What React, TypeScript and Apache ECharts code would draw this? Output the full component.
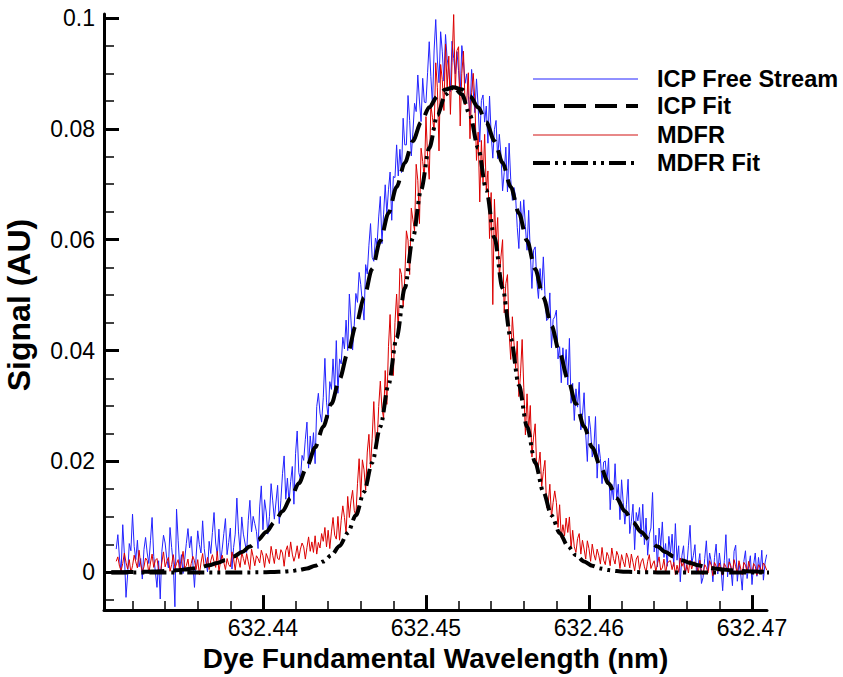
import React, { useEffect, useRef } from "react";
import * as echarts from "echarts";

// ---- Data ----
// Measured spectra, one reading every 0.0001 nm starting at 632.4310 nm
const SAMPLE_START_NM = 632.431;
const SAMPLE_STEP_NM = 0.0001;

const icpFreeStream = [
  0.0042, 0.0068, 0.0026, 0.0001, 0.0086, 0.0033, -0.0045, -0.0004, 0.0052, 0.0039,
  0.0105, 0.0047, 0.0023, 0.0058, 0.001, 0.0025, -0.0012, 0.0041, 0.0063, 0.0035,
  0.0016, 0.0057, 0.0099, 0.0029, 0.0001, -0.0027, 0.0021, -0.0048, 0.0038, 0.0067,
  0.0053, 0.0025, 0.0008, 0.0081, 0.0045, 0.0014, -0.0062, 0.0114, 0.0057, 0.0007,
  0.0032, -0.0002, 0.0023, 0.0052, 0.0079, 0.0044, 0.0065, 0.0017, -0.0027, 0.0028,
  0.0075, 0.005, 0.0035, 0.0093, 0.0043, 0.0018, 0.0001, 0.0056, 0.0034, 0.0072,
  0.0108, 0.0053, 0.0031, 0.0078, 0.0016, 0.0042, 0.007, 0.0097, 0.0032, 0.0054,
  0.008, 0.0006, 0.0045, 0.0069, 0.0134, 0.0073, 0.0038, 0.01, 0.0069, 0.0053,
  0.0036, 0.0094, 0.013, 0.0073, 0.0101, 0.0088, 0.0074, 0.0043, 0.0118, 0.0156,
  0.0077, 0.0131, 0.0109, 0.0069, 0.0101, 0.016, 0.0129, 0.0096, 0.0127, 0.0157,
  0.0088, 0.013, 0.0178, 0.021, 0.0132, 0.017, 0.0127, 0.0164, 0.0191, 0.0123,
  0.0214, 0.0255, 0.018, 0.0168, 0.0211, 0.0202, 0.024, 0.0271, 0.0188, 0.0246,
  0.0213, 0.0252, 0.0196, 0.0299, 0.0323, 0.0287, 0.0271, 0.0315, 0.0386, 0.0307,
  0.0278, 0.0344, 0.033, 0.0385, 0.0328, 0.0418, 0.0323, 0.0385, 0.0376, 0.0424,
  0.0403, 0.0455, 0.04, 0.0502, 0.0455, 0.0401, 0.0446, 0.0503, 0.0487, 0.0541,
  0.0519, 0.0486, 0.0455, 0.0555, 0.0538, 0.059, 0.0629, 0.0568, 0.0561, 0.0603,
  0.0591, 0.0641, 0.0678, 0.0593, 0.0646, 0.0699, 0.0647, 0.069, 0.0722, 0.0635,
  0.0714, 0.0712, 0.0771, 0.0715, 0.0763, 0.0721, 0.0819, 0.0771, 0.0771, 0.086,
  0.0815, 0.0751, 0.0794, 0.0846, 0.0831, 0.0897, 0.085, 0.0813, 0.0891, 0.0848,
  0.0847, 0.0901, 0.0957, 0.0894, 0.0843, 0.0942, 0.0997, 0.0924, 0.0883, 0.0975,
  0.094, 0.0886, 0.097, 0.0926, 0.0906, 0.0867, 0.0958, 0.0927, 0.0899, 0.0939,
  0.0905, 0.0862, 0.095, 0.0922, 0.0882, 0.0899, 0.086, 0.0825, 0.0907, 0.0868,
  0.0829, 0.089, 0.084, 0.0776, 0.0851, 0.0861, 0.0812, 0.0841, 0.0774, 0.0859,
  0.079, 0.0747, 0.0799, 0.0815, 0.0746, 0.079, 0.0754, 0.0688, 0.0721, 0.0767,
  0.0686, 0.0774, 0.0709, 0.0671, 0.0694, 0.0677, 0.0622, 0.0584, 0.0669, 0.062,
  0.0672, 0.0624, 0.0581, 0.0653, 0.0578, 0.0512, 0.0581, 0.0587, 0.0525, 0.0494,
  0.0548, 0.0509, 0.0569, 0.0501, 0.0454, 0.0457, 0.0504, 0.0405, 0.0456, 0.0461,
  0.0473, 0.0385, 0.0407, 0.0342, 0.0405, 0.0364, 0.0402, 0.0338, 0.0422, 0.0305,
  0.0341, 0.0274, 0.0331, 0.0298, 0.0343, 0.0257, 0.0283, 0.0324, 0.0249, 0.02,
  0.0282, 0.0257, 0.0208, 0.0225, 0.0281, 0.017, 0.0231, 0.0205, 0.016, 0.0199,
  0.0201, 0.0163, 0.0206, 0.0113, 0.0159, 0.0131, 0.0196, 0.0134, 0.0159, 0.0095,
  0.0167, 0.0126, 0.0087, 0.0123, 0.0168, 0.007, 0.0092, 0.0123, 0.0041, 0.0108,
  0.0093, 0.0117, 0.0064, 0.0123, 0.005, 0.0098, 0.0031, 0.0069, 0.008, 0.0144,
  0.0037, 0.0067, 0.001, 0.008, 0.0048, 0.0091, 0.0027, 0.0052, 0.0011, 0.0065,
  0.0035, 0.0069, 0.0011, 0.0088, 0.0022, 0.0048, -0.0017, 0.003, 0.0048, -0.0002,
  0.0011, 0.0048, 0.0085, 0.0016, 0.003, 0.005, -0.0003, 0.0014, 0.0034, -0.002,
  -0.0009, 0.0025, 0.0057, 0.0003, 0.0035, 0.0019, -0.0017, 0.0027, 0.0051, -0.0003,
  0.0035, 0.0008, -0.0033, 0.0021, 0.0068, -0.0008, 0.0025, 0.0008, -0.0024, 0.0038,
  0.0049, -0.0016, 0.0016, -0.0001, -0.0032, 0.002, 0.0039, -0.0011, 0.0012, 0.003,
  -0.0022, 0.0014, 0.0035, -0.0007, 0.0027, 0.0, 0.004, -0.0014, 0.0017, 0.0032,
];

const mdfr = [
  0.002, 0.0028, 0.0011, 0.0003, 0.0016, 0.0035, 0.0018, 0.0006, 0.0023, -0.0001,
  0.0012, 0.0031, 0.0019, 0.0008, 0.004, 0.0015, 0.0001, 0.001, 0.0026, 0.0021,
  -0.0002, 0.0017, 0.0033, 0.0009, 0.0022, 0.0025, 0.0005, -0.0003, 0.0018, 0.0037,
  0.001, 0.002, 0.0027, 0.0002, 0.0014, 0.0032, 0.0007, 0.0016, 0.0023, 0.0,
  0.0019, 0.0038, 0.0008, 0.0012, 0.0024, 0.0001, 0.0016, 0.0029, 0.0021, 0.0005,
  0.0023, -0.0004, 0.0017, 0.0034, 0.001, 0.001, 0.0027, 0.0005, 0.0021, 0.0032,
  0.0019, 0.0009, 0.0038, 0.0001, 0.002, 0.0031, 0.0018, 0.0005, 0.0025, 0.0014,
  0.001, 0.0037, 0.0024, 0.0004, 0.0029, 0.0022, 0.0009, 0.0036, 0.0025, 0.0014,
  0.0034, 0.0019, 0.0005, 0.0042, 0.0028, 0.0012, 0.003, 0.0025, 0.0017, 0.004,
  0.003, 0.0009, 0.0034, 0.0026, 0.0016, 0.0047, 0.0031, 0.0016, 0.0042, 0.0025,
  0.0023, 0.0041, 0.0035, 0.0011, 0.0039, 0.0048, 0.0028, 0.0055, 0.0033, 0.002,
  0.0031, 0.0048, 0.0025, 0.0042, 0.0053, 0.0046, 0.0024, 0.0045, 0.0064, 0.0038,
  0.0055, 0.0036, 0.0066, 0.0033, 0.0054, 0.0044, 0.007, 0.0056, 0.0081, 0.0046,
  0.0076, 0.0043, 0.0073, 0.0099, 0.0067, 0.006, 0.0101, 0.0058, 0.0094, 0.012,
  0.0099, 0.0071, 0.0137, 0.0099, 0.0129, 0.0148, 0.0112, 0.0102, 0.016, 0.0205,
  0.0136, 0.0203, 0.0185, 0.0148, 0.0217, 0.0249, 0.0189, 0.0242, 0.0308, 0.0237,
  0.0231, 0.0299, 0.0345, 0.0296, 0.0278, 0.0364, 0.0303, 0.0407, 0.0465, 0.0379,
  0.0355, 0.0451, 0.0502, 0.0435, 0.0548, 0.0537, 0.0479, 0.053, 0.0616, 0.0599,
  0.0537, 0.0657, 0.0636, 0.0616, 0.0736, 0.0707, 0.0629, 0.0765, 0.0741, 0.0709,
  0.0822, 0.0751, 0.0709, 0.0843, 0.082, 0.0796, 0.0919, 0.0874, 0.076, 0.0916,
  0.0889, 0.0833, 0.0953, 0.0874, 0.0931, 0.0826, 0.092, 0.1006, 0.087, 0.0941,
  0.0948, 0.0805, 0.09, 0.094, 0.0843, 0.0849, 0.0901, 0.0782, 0.0865, 0.09,
  0.0851, 0.0743, 0.0794, 0.0668, 0.0779, 0.0703, 0.079, 0.0689, 0.0724, 0.0602,
  0.0685, 0.0483, 0.0673, 0.0594, 0.064, 0.0532, 0.0569, 0.06, 0.0468, 0.0521,
  0.0537, 0.0434, 0.0384, 0.0461, 0.0414, 0.0368, 0.0417, 0.0317, 0.0358, 0.042,
  0.0334, 0.0248, 0.0322, 0.0255, 0.0301, 0.0208, 0.0244, 0.0268, 0.0182, 0.0192,
  0.0217, 0.0155, 0.0182, 0.0202, 0.0117, 0.0124, 0.0159, 0.0099, 0.0126, 0.0147,
  0.0126, 0.0081, 0.0122, 0.0063, 0.0086, 0.0066, 0.0098, 0.0072, 0.01, 0.0043,
  0.0076, 0.0046, 0.0036, 0.0061, 0.007, 0.0033, 0.0058, 0.0042, 0.0024, 0.0057,
  0.0043, 0.002, 0.0051, 0.0033, 0.0022, 0.0042, 0.0031, 0.0015, 0.0045, 0.0022,
  0.0014, 0.0036, 0.0029, 0.0012, 0.0044, 0.0025, 0.0015, 0.0038, 0.003, 0.0007,
  0.0032, 0.002, 0.001, 0.0035, 0.0026, 0.0008, 0.0033, 0.0018, 0.0003, 0.0024,
  0.003, 0.0005, 0.0019, 0.0025, 0.001, 0.0, 0.002, 0.0032, 0.0007, 0.0015,
  0.0021, 0.0001, 0.0016, 0.0028, 0.0004, 0.0008, 0.0024, -0.0002, 0.0016, 0.002,
  0.0021, 0.0005, 0.0018, -0.0004, 0.0013, 0.0, 0.0026, 0.0011, 0.0018, -0.0002,
  0.0014, -0.0001, 0.0022, 0.0006, 0.0017, 0.0019, 0.001, -0.0002, 0.0022, 0.0001,
  -0.0004, 0.0014, 0.0009, -0.0001, 0.0021, 0.0013, -0.0006, 0.0018, 0.0011, 0.0002,
  0.0017, 0.0003, -0.0005, 0.0016, 0.001, 0.0001, 0.0019, 0.0012, -0.0003, 0.0023,
  0.001, -0.0002, 0.0021, 0.0008, -0.0004, 0.0018, 0.0013, 0.0, 0.002, 0.0005,
  -0.0001, 0.0016, 0.0011, -0.0005, 0.0014, 0.0009, 0.0001, 0.0017, 0.0012, 0.0004,
];

// Fitted profiles, tabulated wavelengths (nm)
const fitWavelengths = [
  632.4307, 632.4312, 632.4317, 632.4322, 632.4327, 632.4332, 632.4337, 632.4342, 632.4347, 632.4352,
  632.4357, 632.4362, 632.4367, 632.4372, 632.4377, 632.4382, 632.4387, 632.4392, 632.4397, 632.4402,
  632.4407, 632.4412, 632.4417, 632.4422, 632.4427, 632.4432, 632.4437, 632.4442, 632.4447, 632.4452,
  632.4457, 632.4462, 632.4467, 632.4472, 632.4477, 632.4482, 632.4487, 632.4492, 632.4497, 632.4502,
  632.4507, 632.4512, 632.4517, 632.4522, 632.4527, 632.4532, 632.4537, 632.4542, 632.4547, 632.4552,
  632.4557, 632.4562, 632.4567, 632.4572, 632.4577, 632.4582, 632.4587, 632.4592, 632.4597, 632.4602,
  632.4607, 632.4612, 632.4617, 632.4622, 632.4627, 632.4632, 632.4637, 632.4642, 632.4647, 632.4652,
  632.4657, 632.4662, 632.4667, 632.4672, 632.4677, 632.4682, 632.4687, 632.4692, 632.4697, 632.4702,
  632.4707, 632.4712,
];

const icpFit = [
  0.00002, 0.00003, 0.00005, 0.00007, 0.0001, 0.00014, 0.0002, 0.00028, 0.00038, 0.00053,
  0.00071, 0.00096, 0.00128, 0.00169, 0.00221, 0.00286, 0.00366, 0.00465, 0.00585, 0.0073,
  0.00902, 0.01104, 0.01338, 0.01607, 0.01912, 0.02253, 0.0263, 0.03043, 0.03486, 0.03957,
  0.0445, 0.04958, 0.05471, 0.05982, 0.06479, 0.06952, 0.07389, 0.07781, 0.08117, 0.08388,
  0.08587, 0.08709, 0.0875, 0.08709, 0.08587, 0.08388, 0.08117, 0.07781, 0.07389, 0.06952,
  0.06479, 0.05982, 0.05471, 0.04958, 0.0445, 0.03957, 0.03486, 0.03043, 0.0263, 0.02253,
  0.01912, 0.01607, 0.01338, 0.01104, 0.00902, 0.0073, 0.00585, 0.00465, 0.00366, 0.00286,
  0.00221, 0.00169, 0.00128, 0.00096, 0.00071, 0.00053, 0.00038, 0.00028, 0.0002, 0.00014,
  0.0001, 0.00007,
];

const mdfrFit = [
  0, 0, 0, 0, 0, 0, 0, 0, 0, 0,
  0, 0, 0, 0, 0, 0, 0, 0, 0.00002, 0.00003,
  0.00007, 0.00012, 0.00023, 0.00041, 0.00071, 0.00119, 0.00195, 0.00309, 0.00475, 0.0071,
  0.01029, 0.01449, 0.0198, 0.02625, 0.0338, 0.04224, 0.05124, 0.06034, 0.06898, 0.07654,
  0.08245, 0.08621, 0.0875, 0.08621, 0.08245, 0.07654, 0.06898, 0.06034, 0.05124, 0.04224,
  0.0338, 0.02625, 0.0198, 0.01449, 0.01029, 0.0071, 0.00475, 0.00309, 0.00195, 0.00119,
  0.00071, 0.00041, 0.00023, 0.00012, 0.00007, 0.00003, 0.00002, 0, 0, 0,
  0, 0, 0, 0, 0, 0, 0, 0, 0, 0,
  0, 0,
];

// Axis ticks
const xMajorTicks = [632.44, 632.45, 632.46, 632.47];
const xMinorTicks = [
  632.432, 632.434, 632.436, 632.438, 632.442, 632.444, 632.446, 632.448,
  632.452, 632.454, 632.456, 632.458, 632.462, 632.464, 632.466, 632.468,
];
const yMajorTicks = [0, 0.02, 0.04, 0.06, 0.08, 0.1];
const yMinorTicks = [
  -0.005, 0.005, 0.01, 0.015, 0.025, 0.03, 0.035, 0.045, 0.05, 0.055, 0.065, 0.07,
  0.075, 0.085, 0.09, 0.095,
];
const X_MIN = 632.43025;
const X_MAX = 632.47092;
const Y_MIN = -0.0068;
const Y_MAX = 0.1007;

const seriesNames = ["ICP Free Stream", "ICP Fit", "MDFR", "MDFR Fit"];
const xAxisTitle = "Dye Fundamental Wavelength (nm)";
const yAxisTitle = "Signal (AU)";

const FONT = "'Liberation Sans', Arial, Helvetica, sans-serif";

export default function App() {
  const ref = useRef<HTMLDivElement>(null);

  useEffect(() => {
    document.body.style.margin = "0";
    if (!ref.current) return;
    const chart = echarts.init(ref.current, null, { renderer: "svg" });

    const sampled = (vals: number[]) =>
      vals.map((v, i) => [SAMPLE_START_NM + i * SAMPLE_STEP_NM, v]);
    const paired = (xs: number[], ys: number[]) => xs.map((x, i) => [x, ys[i]]);

    const blue = "#2323ff";
    const red = "#dc0000";

    const legendRows = [
      { name: seriesNames[0], color: blue, width: 1, dash: null as number[] | null, y: 79 },
      { name: seriesNames[1], color: "#000", width: 4, dash: [22, 9], y: 106 },
      { name: seriesNames[2], color: "#e06060", width: 1.5, dash: null, y: 135 },
      { name: seriesNames[3], color: "#000", width: 4, dash: [17, 5, 3, 5, 3, 5], y: 163 },
    ];

    const graphic: any[] = [];
    legendRows.forEach((r) => {
      graphic.push({
        type: "line",
        shape: { x1: 533, y1: r.y, x2: 638, y2: r.y },
        style: { stroke: r.color, lineWidth: r.width, lineDash: r.dash || undefined },
        silent: true,
      });
      graphic.push({
        type: "text",
        x: 657,
        y: r.y,
        style: {
          text: r.name,
          fill: "#000",
          font: `bold 23.5px ${FONT}`,
          verticalAlign: "middle",
          align: "left",
        },
        silent: true,
      });
    });
    graphic.push({
      type: "text",
      x: 19,
      y: 305,
      rotation: Math.PI / 2,
      style: {
        text: yAxisTitle,
        fill: "#000",
        font: `bold 32px ${FONT}`,
        align: "center",
        verticalAlign: "middle",
      },
      silent: true,
    });

    const option: any = {
      animation: false,
      backgroundColor: "#fff",
      grid: { left: 104, right: 76, top: 14, bottom: 59, containLabel: false },
      xAxis: [
        {
          type: "value",
          min: X_MIN,
          max: X_MAX,
          position: "bottom",
          name: xAxisTitle,
          nameLocation: "middle",
          nameGap: 29,
          nameTextStyle: { fontSize: 28, fontWeight: "bold", color: "#000", fontFamily: FONT },
          axisLine: { onZero: false, lineStyle: { color: "#000", width: 3 } },
          axisTick: { inside: true, length: 15, lineStyle: { color: "#000", width: 3 }, customValues: xMajorTicks },
          axisLabel: {
            customValues: xMajorTicks,
            formatter: (v: number) => v.toFixed(2),
            fontSize: 23,
            color: "#000",
            fontFamily: FONT,
            margin: 6,
          },
          splitLine: { show: false },
        },
        {
          type: "value",
          min: X_MIN,
          max: X_MAX,
          position: "bottom",
          axisLine: { show: false, onZero: false },
          axisTick: { inside: true, length: 9, lineStyle: { color: "#000", width: 1.5 }, customValues: xMinorTicks },
          axisLabel: { show: false },
          splitLine: { show: false },
        },
      ],
      yAxis: [
        {
          type: "value",
          min: Y_MIN,
          max: Y_MAX,
          position: "left",
          axisLine: { onZero: false, lineStyle: { color: "#000", width: 3 } },
          axisTick: { inside: true, length: 15, lineStyle: { color: "#000", width: 3 }, customValues: yMajorTicks },
          axisLabel: {
            customValues: yMajorTicks,
            formatter: (v: number) => String(v),
            fontSize: 23,
            color: "#000",
            fontFamily: FONT,
            margin: 9,
          },
          splitLine: { show: false },
        },
        {
          type: "value",
          min: Y_MIN,
          max: Y_MAX,
          position: "left",
          axisLine: { show: false, onZero: false },
          axisTick: { inside: true, length: 10, lineStyle: { color: "#000", width: 1.5 }, customValues: yMinorTicks },
          axisLabel: { show: false },
          splitLine: { show: false },
        },
      ],
      series: [
        {
          name: seriesNames[0],
          type: "line",
          data: sampled(icpFreeStream),
          showSymbol: false,
          symbol: "none",
          lineStyle: { color: blue, width: 1 },
          z: 2,
        },
        {
          name: seriesNames[2],
          type: "line",
          data: sampled(mdfr),
          showSymbol: false,
          symbol: "none",
          lineStyle: { color: red, width: 1 },
          z: 3,
        },
        {
          name: seriesNames[1],
          type: "line",
          data: paired(fitWavelengths, icpFit),
          showSymbol: false,
          symbol: "none",
          smooth: 0.3,
          smoothMonotone: "x",
          lineStyle: { color: "#000", width: 4, type: [22, 9] },
          z: 4,
        },
        {
          name: seriesNames[3],
          type: "line",
          data: paired(fitWavelengths, mdfrFit),
          showSymbol: false,
          symbol: "none",
          smooth: 0.3,
          smoothMonotone: "x",
          lineStyle: { color: "#000", width: 4, type: [17, 5, 3, 5, 3, 5] },
          z: 5,
        },
      ],
      graphic,
    };

    chart.setOption(option);
    return () => chart.dispose();
  }, []);

  return <div ref={ref} style={{ width: 843, height: 677 }} />;
}
